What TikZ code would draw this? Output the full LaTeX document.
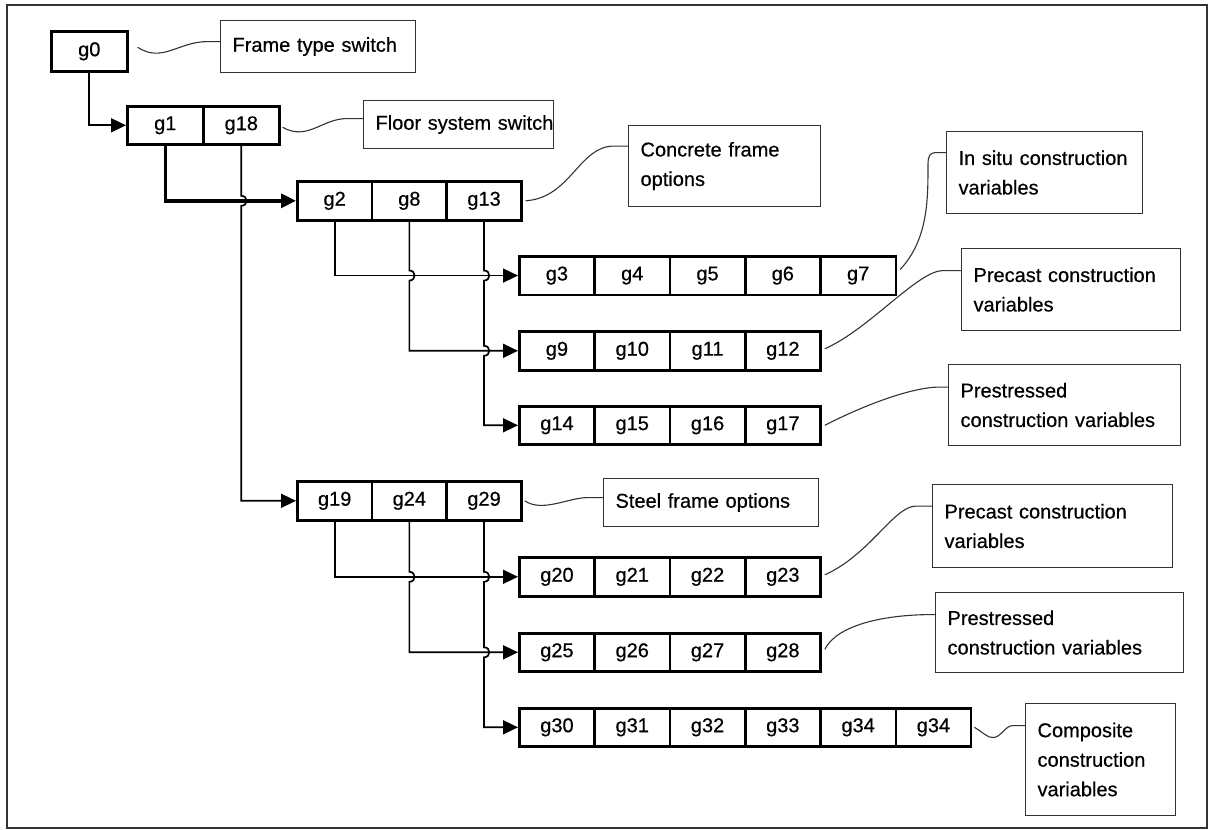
\documentclass[tikz,border=0pt]{standalone}
\usepackage{fontspec}
\setmainfont{Liberation Sans}[FakeBold=0.5]
\usetikzlibrary{arrows.meta,calc}
\hyphenpenalty=10000
\exhyphenpenalty=10000

\begin{document}
\begin{tikzpicture}[x=1pt,y=-1pt,
  txt/.style={font=\fontsize{20}{29.5}\selectfont},
  cell/.style={txt,draw=black,line width=2.6pt,inner sep=0pt,anchor=north west,
    minimum width=75.3pt,minimum height=38.5pt},
  link/.style={line width=1.7pt,-{Triangle[length=15pt,width=14pt]}},
  lbl/.style={txt,draw=black!80,line width=1.1pt,anchor=north west,align=left,
    inner ysep=0pt,inner xsep=12pt},
  lead/.style={draw=black!80,line width=1.1pt},
]
\useasboundingbox (0,0) rectangle (1213,830);
\draw[draw=black!80,line width=2pt] (7,5) rectangle (1207,828);

% ---- switch cells ----
\node[cell,minimum width=76pt,minimum height=40pt] (g0) at (50,30) {g0};
\foreach \n [count=\i from 0] in {g1,g18}
  \node[cell,minimum width=76pt,minimum height=38pt] (\n) at ({126+76*\i},105) {\n};
\foreach \n [count=\i from 0] in {g2,g8,g13}
  \node[cell,minimum width=74.7pt,minimum height=39pt] (\n) at ({296+74.7*\i},180) {\n};
\foreach \n [count=\i from 0] in {g3,g4,g5,g6,g7}
  \node[cell] (\n) at ({518+75.3*\i},255) {\n};
\foreach \n [count=\i from 0] in {g9,g10,g11,g12}
  \node[cell,minimum height=39pt] (\n) at ({518+75.3*\i},330) {\n};
\foreach \n [count=\i from 0] in {g14,g15,g16,g17}
  \node[cell,minimum height=38pt] (\n) at ({518+75.3*\i},405) {\n};
\foreach \n [count=\i from 0] in {g19,g24,g29}
  \node[cell,minimum width=74.7pt,minimum height=39pt] (\n) at ({296+74.7*\i},480) {\n};
\foreach \n [count=\i from 0] in {g20,g21,g22,g23}
  \node[cell,minimum height=39pt] (\n) at ({518+75.3*\i},556) {\n};
\foreach \n [count=\i from 0] in {g25,g26,g27,g28}
  \node[cell,minimum height=38pt] (\n) at ({518+75.3*\i},632) {\n};
\foreach \n/\t [count=\i from 0] in {g30/g30,g31/g31,g32/g32,g33/g33,g34/g34,g34b/g34}
  \node[cell,minimum height=38pt] (\n) at ({518+75.3*\i},707) {\t};

% ---- description boxes ----
\node[lbl,text width=171pt,minimum height=52pt] (ft) at (220,20) {Frame type switch};
\node[lbl,text width=166pt,minimum height=48pt] (fs) at (363,100) {\mbox{Floor system switch}};
\node[lbl,text width=168pt,minimum height=81pt] (cf) at (628,125) {Concrete frame\\options};
\node[lbl,text width=172pt,minimum height=82pt] (is) at (946,131) {In situ construction\\variables};
\node[lbl,text width=195pt,minimum height=82pt] (pc1) at (961,248) {Precast construction\\variables};
\node[lbl,text width=208pt,minimum height=81pt] (ps1) at (948,364) {Prestressed\\construction variables};
\node[lbl,text width=191pt,minimum height=48pt] (sf) at (603,478) {Steel frame options};
\node[lbl,text width=216pt,minimum height=83pt] (pc2) at (932,484) {Precast construction\\variables};
\node[lbl,text width=224pt,minimum height=80pt] (ps2) at (935,592) {Prestressed\\construction variables};
\node[lbl,text width=126pt,minimum height=112pt] (cc) at (1025,703) {Composite\\construction\\variables};

% ---- branch connectors (vertical runs hop over crossing lines) ----
\draw[link] (g0.south) |- (g1.west);
\draw[link,line width=3.4pt] (g1.south) |- (g2.west);
\coordinate (c18) at (g18.south |- g2.west);
\draw[link] (g18.south) -- ([yshift=5pt]c18)
  .. controls ([xshift=7pt,yshift=5pt]c18) and ([xshift=7pt,yshift=-5pt]c18) .. ([yshift=-5pt]c18)
  |- (g19.west);

\draw[link] (g2.south) |- (g3.west);
\coordinate (c8) at (g8.south |- g3.west);
\draw[link] (g8.south) -- ([yshift=5pt]c8)
  .. controls ([xshift=7pt,yshift=5pt]c8) and ([xshift=7pt,yshift=-5pt]c8) .. ([yshift=-5pt]c8)
  |- (g9.west);
\coordinate (c13a) at (g13.south |- g3.west);
\coordinate (c13b) at (g13.south |- g9.west);
\draw[link] (g13.south) -- ([yshift=5pt]c13a)
  .. controls ([xshift=7pt,yshift=5pt]c13a) and ([xshift=7pt,yshift=-5pt]c13a) .. ([yshift=-5pt]c13a)
  -- ([yshift=5pt]c13b)
  .. controls ([xshift=7pt,yshift=5pt]c13b) and ([xshift=7pt,yshift=-5pt]c13b) .. ([yshift=-5pt]c13b)
  |- (g14.west);

\draw[link] (g19.south) |- (g20.west);
\coordinate (c24) at (g24.south |- g20.west);
\draw[link] (g24.south) -- ([yshift=5pt]c24)
  .. controls ([xshift=7pt,yshift=5pt]c24) and ([xshift=7pt,yshift=-5pt]c24) .. ([yshift=-5pt]c24)
  |- (g25.west);
\coordinate (c29a) at (g29.south |- g20.west);
\coordinate (c29b) at (g29.south |- g25.west);
\draw[link] (g29.south) -- ([yshift=5pt]c29a)
  .. controls ([xshift=7pt,yshift=5pt]c29a) and ([xshift=7pt,yshift=-5pt]c29a) .. ([yshift=-5pt]c29a)
  -- ([yshift=5pt]c29b)
  .. controls ([xshift=7pt,yshift=5pt]c29b) and ([xshift=7pt,yshift=-5pt]c29b) .. ([yshift=-5pt]c29b)
  |- (g30.west);

% ---- leader curves to the description boxes ----
\draw[lead] ([xshift=9pt,yshift=4pt]g0.east) .. controls +(25,16) and +(-30,0)
  .. ([xshift=-12pt,yshift=5pt]ft.west) -- ([yshift=5pt]ft.west);
\draw[lead] ([xshift=2pt,yshift=-2pt]g18.east) .. controls +(25,14) and +(-25,0)
  .. ([xshift=-16pt,yshift=6pt]fs.west) -- ([yshift=6pt]fs.west);
\draw[lead] ([xshift=3pt]g13.east) .. controls +(45,-3) and +(-35,0)
  .. ([xshift=-14pt,yshift=20pt]cf.west) -- ([yshift=20pt]cf.west);
\draw[lead] ([xshift=3pt,yshift=6pt]g7.east) .. controls +(28,-30) and +(0,35)
  .. ([xshift=-18pt,yshift=8pt]is.west) .. controls +(0,-9) and +(-6,0)
  .. ([xshift=-10pt,yshift=20pt]is.west) -- ([yshift=20pt]is.west);
\draw[lead] ([xshift=3pt,yshift=2pt]g12.east) .. controls +(45,-20) and +(-25,0)
  .. ([xshift=-18pt,yshift=19pt]pc1.west) -- ([yshift=19pt]pc1.west);
\draw[lead] ([xshift=3pt]g17.east) .. controls +(35,-18) and +(-30,0)
  .. ([xshift=-8pt,yshift=18pt]ps1.west) -- ([yshift=18pt]ps1.west);
\draw[lead] ([xshift=2pt]g29.east) .. controls +(18,12) and +(-20,0)
  .. ([xshift=-15pt,yshift=5pt]sf.west) -- ([yshift=5pt]sf.west);
\draw[lead] ([xshift=3pt,yshift=2pt]g23.east) .. controls +(45,-20) and +(-22,0)
  .. ([xshift=-16pt,yshift=20pt]pc2.west) -- ([yshift=20pt]pc2.west);
\draw[lead] ([xshift=3pt,yshift=3pt]g28.east) .. controls +(12,-24) and +(-50,0)
  .. ([xshift=-2pt,yshift=18pt]ps2.west) -- ([yshift=18pt]ps2.west);
\draw[lead] ([xshift=2pt]g34b.east) .. controls +(10,6) and +(-6,0)
  .. ([xshift=-32pt,yshift=22pt]cc.west) .. controls +(8,0) and +(-8,0)
  .. ([xshift=-12pt,yshift=34pt]cc.west) -- ([yshift=34pt]cc.west);
\end{tikzpicture}
\end{document}
